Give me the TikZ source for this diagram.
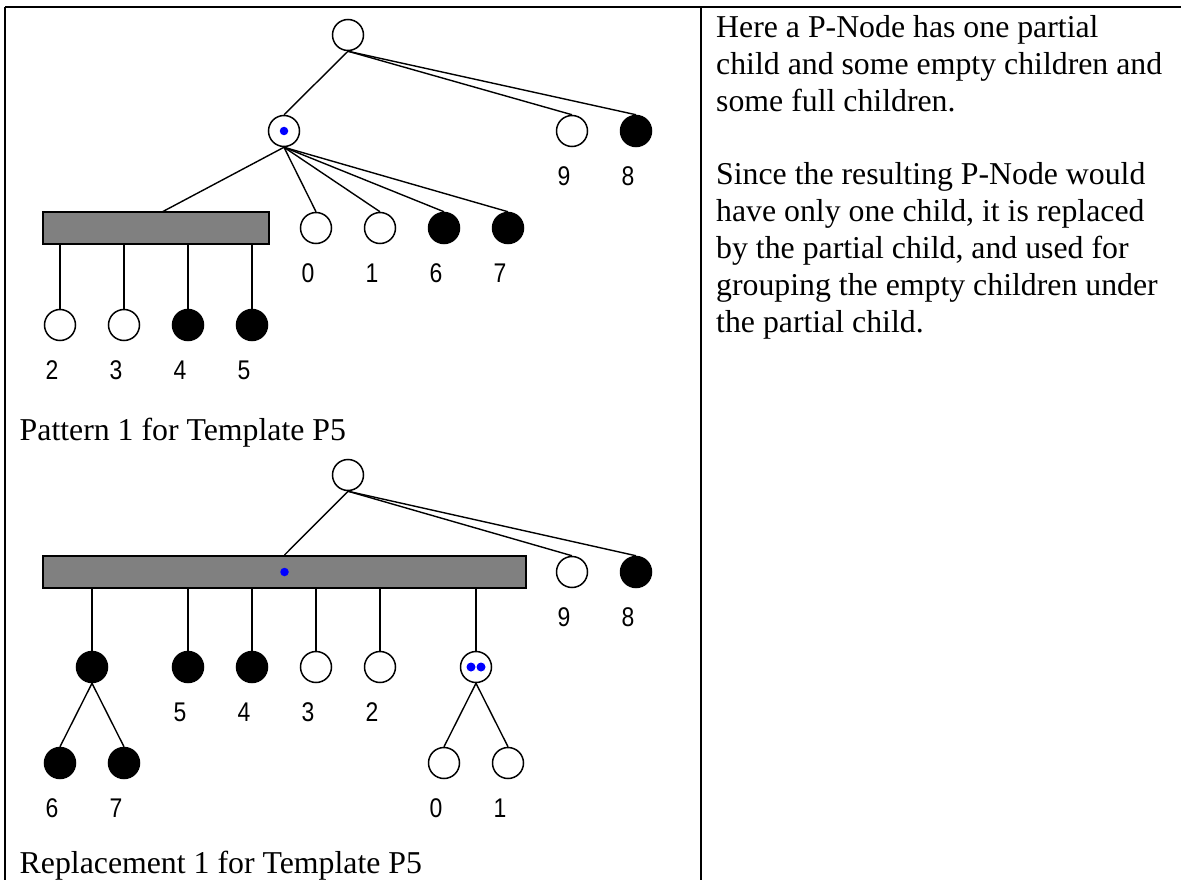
\documentclass[tikz,border=0pt]{standalone}
\usepackage{fontspec}
\setmainfont{Liberation Serif}
\newfontfamily\digitfont{Liberation Sans}
\begin{document}
\begin{tikzpicture}[x=1pt,y=-1pt,
  vnode/.style={circle,draw=black,line width=1.5pt,minimum size=31pt,inner sep=0pt},
  empty/.style={vnode,fill=white},
  full/.style={vnode,fill=black},
  qnode/.style={draw=black,line width=2pt,fill=black!50,inner sep=0pt},
  edge/.style={draw=black,line width=1.4pt},
  frameline/.style={draw=black,line width=2.3pt},
  leaflabel/.style={font=\digitfont\fontsize{27}{27}\selectfont,inner sep=0pt,anchor=center,xscale=0.85},
  caption/.style={font=\fontsize{31.8}{37}\selectfont,inner sep=0pt,anchor=base west},
  bluedot/.style={circle,fill=blue,inner sep=0pt,minimum size=8.5pt}
]
\useasboundingbox (0,0) rectangle (1181,880);
\fill[white] (0,0) rectangle (1181,880);

% table rules
\coordinate (tl) at (5,7);
\coordinate (tr) at (1181,7);
\coordinate (bl) at (5,880);
\coordinate (mt) at (701,7);
\coordinate (mb) at (701,880);
\draw[frameline] (tl) -- (tr);
\draw[frameline] (tl) -- (bl);
\draw[frameline] (mt) -- (mb);

% ---------- pattern tree ----------
\node[empty] (r1) at (348,35) {};
\node[empty] (p1) at (284,131) {};
\node[bluedot] (p1dot) at (p1) {};
\node[empty] (t9) at (572,131) {};
\node[full]  (t8) at (636,131) {};
\node[qnode,minimum width=226pt,minimum height=32pt] (q1) at (156,228) {};
\coordinate (q1top) at (162,212);
\node[empty] (t0) at (316,228) {};
\node[empty] (t1) at (380,228) {};
\node[full]  (t6) at (444,228) {};
\node[full]  (t7) at (508,228) {};
\node[empty] (t2) at (60,325) {};
\node[empty] (t3) at (124,325) {};
\node[full]  (t4) at (188,325) {};
\node[full]  (t5) at (252,325) {};

\draw[edge] (r1.south) -- (p1.north);
\draw[edge] (r1.south) -- (t9.north);
\draw[edge] (r1.south) -- (t8.north);
\draw[edge] (p1.south) -- (q1top);
\foreach \c in {t0,t1,t6,t7} \draw[edge] (p1.south) -- (\c.north);
\foreach \c in {t2,t3,t4,t5} \draw[edge] (q1.south -| \c) -- (\c.north);

\foreach \c/\t in {t9/9,t8/8,t0/0,t1/1,t6/6,t7/7,t2/2,t3/3,t4/4,t5/5}
  \node[leaflabel] at ([xshift=-8pt,yshift=-45pt]\c.center) {\t};

\node[caption] (cap1) at (19.5,440) {Pattern 1 for Template P5};

% ---------- replacement tree ----------
\node[empty] (r2) at (348,475) {};
\node[qnode,minimum width=483pt,minimum height=32pt] (q2) at (284.5,572) {};
\node[bluedot] (q2dot) at (q2) {};
\node[empty] (b9) at (572,572) {};
\node[full]  (b8) at (636,572) {};
\node[full]  (f67) at (92,667) {};
\node[full]  (b5) at (188,667) {};
\node[full]  (b4) at (252,667) {};
\node[empty] (b3) at (316,667) {};
\node[empty] (b2) at (380,667) {};
\node[empty] (pc) at (476,667) {};
\node[bluedot,minimum size=9pt] (pcdotl) at (471,667) {};
\node[bluedot,minimum size=9pt] (pcdotr) at (481,667) {};
\node[full]  (b6) at (60,763) {};
\node[full]  (b7) at (124,763) {};
\node[empty] (b0) at (444,763) {};
\node[empty] (b1) at (508,763) {};

\draw[edge] (r2.south) -- (q2.north);
\draw[edge] (r2.south) -- (b9.north);
\draw[edge] (r2.south) -- (b8.north);
\foreach \c in {f67,b5,b4,b3,b2,pc} \draw[edge] (q2.south -| \c) -- (\c.north);
\draw[edge] (f67.south) -- (b6.north);
\draw[edge] (f67.south) -- (b7.north);
\draw[edge] (pc.south) -- (b0.north);
\draw[edge] (pc.south) -- (b1.north);

\foreach \c/\t in {b9/9,b8/8,b5/5,b4/4,b3/3,b2/2,b6/6,b7/7,b0/0,b1/1}
  \node[leaflabel] at ([xshift=-8pt,yshift=-45pt]\c.center) {\t};

\node[caption] (cap2) at (19.5,873) {Replacement 1 for Template P5};

% ---------- explanation ----------
\node[caption] (e1) at (716,37.5) {Here a P-Node has one partial};
\node[caption] (e2) at (716,74.4) {child and some empty children and};
\node[caption] (e3) at (716,111.2) {some full children.};
\node[caption] (e4) at (716,185) {Since the resulting P-Node would};
\node[caption] (e5) at (716,221.8) {have only one child, it is replaced};
\node[caption] (e6) at (716,258.7) {by the partial child, and used for};
\node[caption] (e7) at (716,295.5) {grouping the empty children under};
\node[caption] (e8) at (716,332.4) {the partial child.};
\end{tikzpicture}
\end{document}
